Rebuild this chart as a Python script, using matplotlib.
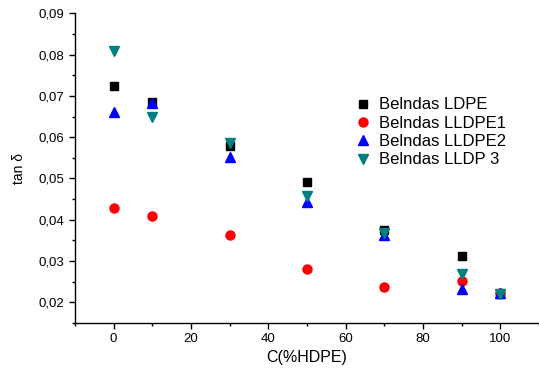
import matplotlib
matplotlib.use('Agg')
import matplotlib.pyplot as plt
from matplotlib.ticker import MultipleLocator, FuncFormatter

plt.rcParams['font.family'] = ['Liberation Sans', 'DejaVu Sans']

# composición (%HDPE)
conc = [0, 10, 30, 50, 70, 90, 100]

# tan delta de cada mezcla
ldpe = [0.0724, 0.0686, 0.0579, 0.0491, 0.0374, 0.0312, 0.0221]
lldpe1 = [0.0428, 0.0408, 0.0362, 0.0281, 0.0237, 0.0251, 0.0222]
lldpe2 = [0.0661, 0.0682, 0.0553, 0.0442, 0.0362, 0.0232, 0.0222]
lldp3 = [0.0808, 0.0648, 0.0587, 0.0458, 0.0369, 0.0268, 0.0220]

labels = ['Belndas LDPE', 'Belndas LLDPE1', 'Belndas LLDPE2', 'Belndas LLDP 3']

fig = plt.figure(figsize=(5.39, 3.74), dpi=100)
ax = fig.add_axes([0.139, 0.1364, 0.861, 0.828])

ax.plot(conc, ldpe, 's', color='black', markersize=5.5, linestyle='none', label=labels[0])
ax.plot(conc, lldpe1, 'o', color='red', markersize=6.5, linestyle='none', label=labels[1])
ax.plot(conc, lldpe2, '^', color='blue', markersize=7, linestyle='none', label=labels[2])
ax.plot(conc, lldp3, 'v', color='#008080', markersize=7, linestyle='none', label=labels[3])

ax.set_xlim(-10, 110)
ax.set_ylim(0.015, 0.09)
ax.xaxis.set_major_locator(MultipleLocator(20))
ax.xaxis.set_minor_locator(MultipleLocator(10))
ax.yaxis.set_major_locator(MultipleLocator(0.01))
ax.yaxis.set_minor_locator(MultipleLocator(0.005))
ax.yaxis.set_major_formatter(FuncFormatter(lambda v, p: ('%.2f' % v).replace('.', ',')))

ax.spines['top'].set_visible(False)
ax.spines['right'].set_visible(False)
for s in ('left', 'bottom'):
    ax.spines[s].set_linewidth(1.0)
ax.tick_params(which='major', direction='out', length=4, width=1, labelsize=9.5)
ax.tick_params(which='minor', direction='out', length=2.5, width=1)

ax.set_xlabel('C(%HDPE)', fontsize=11.5, labelpad=3)
ax.set_ylabel('tan δ', fontsize=10, labelpad=9)

ax.legend(loc='upper left', bbox_to_anchor=(0.586, 0.75), frameon=False, fontsize=12,
          handletextpad=0.45, labelspacing=0.2, handlelength=1.1, borderaxespad=0)

fig.savefig('out.png', dpi=100)
